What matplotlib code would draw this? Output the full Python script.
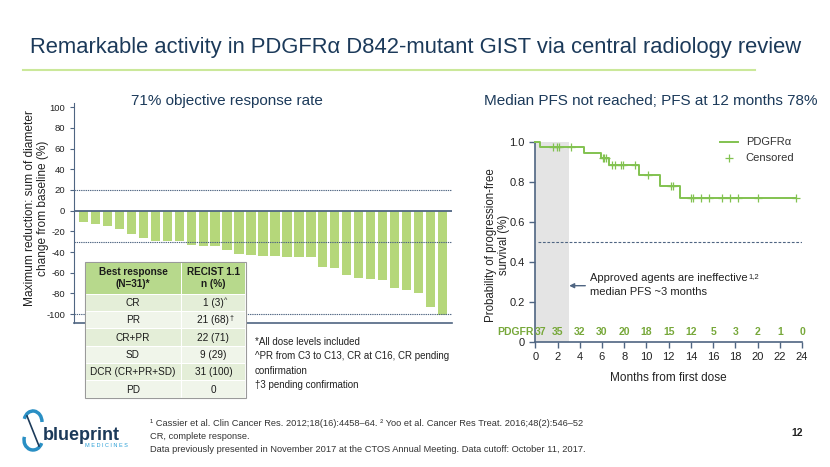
import matplotlib
matplotlib.use('Agg')
import matplotlib.pyplot as plt
import matplotlib.patches as mpatches
import numpy as np

plt.rcParams['font.family'] = ['Liberation Sans', 'DejaVu Sans']
plt.rcParams['mathtext.default'] = 'regular'
plt.rcParams['axes.unicode_minus'] = False

NAVY = '#1c3a5a'
SPINE = '#4f6582'
GREEN = '#b5d77a'
KMGREEN = '#82c250'
RISKGREEN = '#77a83a'

# waterfall: best change from baseline (%)
bar_values = [-10.7, -13, -14.7, -17.7, -23, -26.6, -29, -29, -29, -33.6, -34.6,
              -34.6, -38, -42, -43, -43.7, -43.7, -44.3, -44.3, -45, -54, -55,
              -62, -65, -66.4, -66.7, -75, -76.8, -79.5, -92.7, -101]
ref_lines = [20, -30, -100]
bar_yticks = [100, 80, 60, 40, 20, 0, -20, -40, -60, -80, -100]

# Kaplan-Meier steps
km_t = [0, 0.42, 4.4, 5.95, 6.6, 9.3, 11.2, 13.0, 23.5]
km_s = [1.0, 0.973, 0.946, 0.919, 0.883, 0.832, 0.78, 0.717, 0.717]
censor_t = [1.6, 1.95, 2.15, 3.2, 6.05, 6.2, 6.4, 6.9, 7.2, 7.7, 7.85, 9.0,
            10.1, 12.2, 12.4, 14.0, 14.15, 14.9, 15.6, 16.8, 17.5, 18.2, 20.0, 23.5]
risk_t = [0.45, 2, 4, 6, 8, 10, 12, 14, 16, 18, 20, 22, 24]
risk_n = [37, 35, 32, 30, 20, 18, 15, 12, 5, 3, 2, 1, 0]

table_head = [("Best response\n(N=31)*", "RECIST 1.1\nn (%)")]
table_rows = [("CR", "1 (3)", "^"), ("PR", "21 (68)", "†"), ("CR+PR", "22 (71)", ""),
              ("SD", "9 (29)", ""), ("DCR (CR+PR+SD)", "31 (100)", ""), ("PD", "0", "")]

W, H = 830, 467
fig = plt.figure(figsize=(8.3, 4.67), dpi=100)


def box(l, t, r, b):
    return [l / W, 1 - b / H, (r - l) / W, (b - t) / H]


# ---- waterfall ----
ax1 = fig.add_axes(box(74, 103, 452, 323))
x = np.arange(len(bar_values))
ax1.bar(x, bar_values, width=0.78, color=GREEN, zorder=2)
for v in ref_lines:
    ax1.axhline(v, color=SPINE, lw=0.8, ls=(0, (1.2, 0.8)), zorder=3)
ax1.axhline(0, color=SPINE, lw=1.3, zorder=3)
ax1.set_xlim(-0.8, 30.8)
ax1.set_ylim(-108.5, 104)
ax1.set_yticks(bar_yticks)
ax1.tick_params(axis='y', labelsize=6.8, colors=SPINE, labelcolor='#222222',
                length=3, width=0.8)
ax1.set_xticks([])
for s in ['top', 'right']:
    ax1.spines[s].set_visible(False)
ax1.spines['left'].set_color(SPINE)
ax1.spines['bottom'].set_color(SPINE)
ax1.spines['bottom'].set_linewidth(1.2)
ax1.set_ylabel("Maximum reduction: sum of diameter\nchange from baseline (%)",
               fontsize=8.6, color='#222222', linespacing=1.1)
ax1.yaxis.set_label_coords((49 - 74) / 378, 1 - (208 - 103) / 220)

# ---- Kaplan-Meier ----
ax2 = fig.add_axes(box(535.3, 141.7, 802, 341.7))
ax2.axvspan(0, 3, color='#e4e4e4', zorder=0, lw=0)
ax2.axhline(0.5, xmin=0.01, color=SPINE, lw=0.8, ls=(0, (2.5, 1.5)), zorder=1)
ax2.step(km_t, km_s, where='post', color=KMGREEN, lw=1.4, zorder=3, clip_on=False)
idx = np.searchsorted(km_t, censor_t, side='right') - 1
ax2.plot(censor_t, np.array(km_s)[idx], '+', color=KMGREEN, ms=6, mew=0.9,
         zorder=4, clip_on=False)
for t, n in zip(risk_t, risk_n):
    ax2.text(t, 0.05, str(n), ha='center', va='center', fontsize=7.5,
             color=RISKGREEN, fontweight='bold')
ax2.text(-0.15, 0.05, "PDGFR", ha='right', va='center', fontsize=7.5,
         color=RISKGREEN, fontweight='bold')
ax2.annotate("", xy=(3.05, 0.28), xytext=(4.5, 0.28),
             arrowprops=dict(arrowstyle='-|>', color=SPINE, lw=1.0,
                             mutation_scale=7, shrinkA=0, shrinkB=0))
t1 = ax2.text(4.95, 0.318, "Approved agents are ineffective", fontsize=8,
              color='#222222', va='center')
ax2.annotate("1,2", xy=(1, 1), xycoords=t1, xytext=(0.3, 0), textcoords='offset points',
             fontsize=5.5, va='top', color='#222222')
ax2.text(4.95, 0.248, "median PFS ~3 months", fontsize=8, color='#222222', va='center')
ax2.set_xlim(0, 24)
ax2.set_ylim(0, 1.0)
ax2.set_xticks(range(0, 25, 2))
ax2.set_yticks([0, 0.2, 0.4, 0.6, 0.8, 1.0])
ax2.set_yticklabels(["0", "0.2", "0.4", "0.6", "0.8", "1.0"])
ax2.tick_params(labelsize=8, colors=SPINE, labelcolor='#222222', length=4, width=1)
for s in ['top', 'right']:
    ax2.spines[s].set_visible(False)
for s in ['left', 'bottom']:
    ax2.spines[s].set_color(SPINE)
    ax2.spines[s].set_linewidth(1.2)
ax2.set_xlabel("Months from first dose", fontsize=8.5, color='#222222', labelpad=7)
ax2.set_ylabel("Probability of progression-free\nsurvival (%)", fontsize=8.3,
               color='#222222', linespacing=1.1)
ax2.yaxis.set_label_coords((510 - 535.3) / 266.7, 1 - (245 - 141.7) / 200)

# ---- overlay: titles, table, notes, logo ----
ov = fig.add_axes([0, 0, 1, 1], zorder=10)
ov.set_xlim(0, W)
ov.set_ylim(H, 0)
ov.axis('off')

ov.text(30, 47, "Remarkable activity in PDGFRα D842-mutant GIST via central radiology review",
        fontsize=15.8, color=NAVY, va='center', ha='left')
ov.plot([23, 755], [70, 70], color='#cbe89a', lw=1.5)
ov.text(227, 101, "71% objective response rate", fontsize=11, color=NAVY,
        ha='center', va='center')
ov.text(651, 101, "Median PFS not reached; PFS at 12 months 78%", fontsize=11,
        color=NAVY, ha='center', va='center')

# legend
ov.plot([720, 738], [142, 142], color=KMGREEN, lw=1.4)
ov.plot([729], [158.3], '+', color=KMGREEN, ms=6, mew=0.9)
ov.text(745.7, 142, "PDGFRα", fontsize=8, color='#333333', va='center')
ov.text(745.7, 158.3, "Censored", fontsize=8, color='#333333', va='center')

# response table
tl, tc, tr = 85, 181, 245.7
tt, th = 261.7, 294.3
rh = (398.3 - th) / len(table_rows)
ov.add_patch(mpatches.Rectangle((tl, tt), tr - tl, 398.3 - tt, fc='white',
                                ec='#9a9a9a', lw=0.8))
ov.add_patch(mpatches.Rectangle((tl + 1, tt + 1), tc - tl - 1.5, th - tt - 1.5, fc='#b7d98c', lw=0))
ov.add_patch(mpatches.Rectangle((tc + 0.5, tt + 1), tr - tc - 1.5, th - tt - 1.5, fc='#b7d98c', lw=0))
for h, txt in zip([(tl + tc) / 2, (tc + tr) / 2], table_head[0]):
    ov.text(h, (tt + th) / 2, txt, ha='center', va='center', fontsize=7.2,
            fontweight='bold', color='#1a1a1a', linespacing=1.3)
for i, (a, b, sup) in enumerate(table_rows):
    y0 = th + i * rh
    fc = '#e4eed8' if i % 2 == 0 else '#f0f5ea'
    ov.add_patch(mpatches.Rectangle((tl + 1, y0 + 0.5), tc - tl - 1.5, rh - 1, fc=fc, lw=0))
    ov.add_patch(mpatches.Rectangle((tc + 0.5, y0 + 0.5), tr - tc - 1.5, rh - 1, fc=fc, lw=0))
    ov.text((tl + tc) / 2, y0 + rh / 2, a, ha='center', va='center', fontsize=7.2,
            color='#1a1a1a')
    t = ov.text((tc + tr) / 2, y0 + rh / 2, b, ha='center', va='center',
                fontsize=7.2, color='#1a1a1a')
    if sup:
        ov.annotate(sup, xy=(1, 1), xycoords=t, xytext=(0.3, 0.5),
                    textcoords='offset points', fontsize=5, va='top', color='#1a1a1a')

notes = ["*All dose levels included", "^PR from C3 to C13, CR at C16, CR pending",
         "confirmation", "†3 pending confirmation"]
for i, n in enumerate(notes):
    ov.text(255, 341.7 + i * 14.4, n, fontsize=7, color='#222222', va='center')

foot = ["¹ Cassier et al. Clin Cancer Res. 2012;18(16):4458–64. ² Yoo et al. Cancer Res Treat. 2016;48(2):546–52",
        "CR, complete response.",
        "Data previously presented in November 2017 at the CTOS Annual Meeting. Data cutoff: October 11, 2017."]
for i, f in enumerate(foot):
    ov.text(150, 424 + i * 12.5, f, fontsize=6.7, color='#333333', va='center')
ov.text(797, 433, "12", fontsize=7.5, color='#222222', va='center', ha='center',
        fontweight='bold')

# logo
ov.add_patch(mpatches.Arc((33, 422), 18, 22, theta1=200, theta2=360, color='#2a8fc4', lw=2.5))
ov.add_patch(mpatches.Arc((33, 440), 18, 20, theta1=20, theta2=200, color='#2a8fc4', lw=2.5))
ov.plot([27, 39], [416, 446], color=NAVY, lw=1.2)
ov.text(43, 435, "blueprint", fontsize=13, fontweight='bold', color=NAVY, va='center')
ov.text(85, 445.5, "M E D I C I N E S", fontsize=4, color='#2a9fd6', va='center')

fig.savefig("out.png", dpi=100)
